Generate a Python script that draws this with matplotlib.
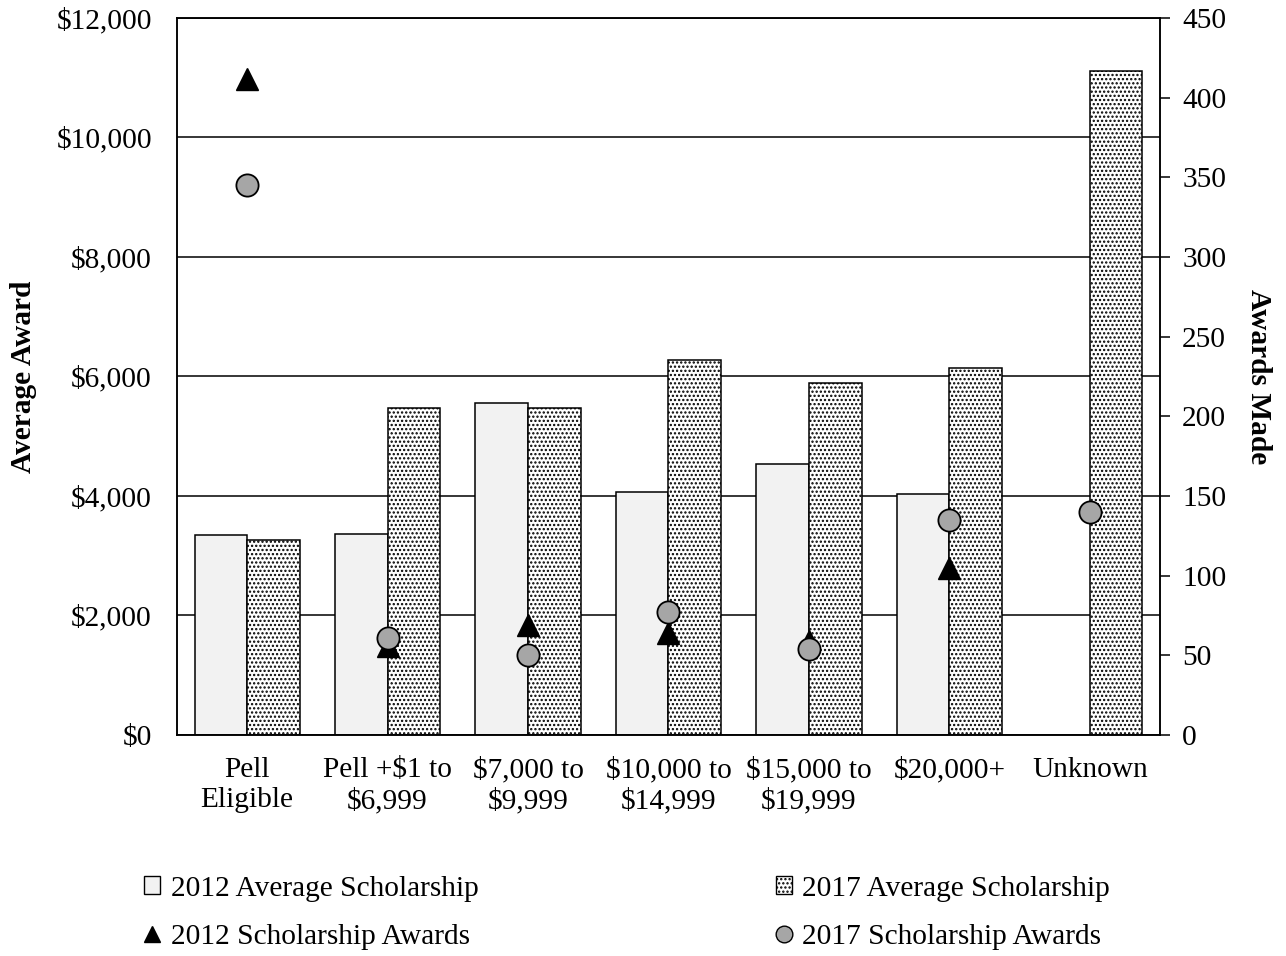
import numpy as np
import matplotlib

matplotlib.use("Agg")
import matplotlib.pyplot as plt
from matplotlib.lines import Line2D
from matplotlib.patches import Patch
from matplotlib.ticker import FuncFormatter

plt.rcParams["font.family"] = ["Liberation Serif", "DejaVu Serif"]
plt.rcParams["hatch.linewidth"] = 1.1

categories = [
    "Pell\nEligible",
    "Pell +$1 to\n$6,999",
    "$7,000 to\n$9,999",
    "$10,000 to\n$14,999",
    "$15,000 to\n$19,999",
    "$20,000+",
    "Unknown",
]
avg_2012 = [3350, 3370, 5550, 4070, 4540, 4030, np.nan]
avg_2017 = [3260, 5470, 5470, 6280, 5890, 6150, 11110]
awards_2012 = [412, 56, 69, 64, 59, 105, np.nan]
awards_2017 = [345, 61, 50, 77, 54, 135, 140]

FS = 21.2
x = np.arange(len(categories))
width = 0.375

fig = plt.figure(figsize=(12.86, 9.56), dpi=100)
ax = fig.add_axes([0.1376, 0.2312, 0.7644, 0.75])

ax.bar(x - width / 2, avg_2012, width, color="#f2f2f2", edgecolor="black", linewidth=1.1, zorder=2)
ax.bar(x + width / 2, avg_2017, width, color="white", edgecolor="black", hatch="....", linewidth=1.1, zorder=2)

ax.set_ylim(0, 12000)
ax.set_yticks(np.arange(0, 12001, 2000))
ax.yaxis.set_major_formatter(FuncFormatter(lambda v, _: f"${v:,.0f}"))
ax.set_xlim(-0.5, len(categories) - 0.5)
ax.set_xticks(x)
ax.set_xticklabels(categories, fontsize=FS, linespacing=1.2)
ax.tick_params(axis="x", length=0, pad=16)
ax.tick_params(axis="y", length=0, labelsize=FS, pad=18)
ax.grid(axis="y", color="black", linewidth=1.1, zorder=0)
ax.set_axisbelow(True)
ax.set_ylabel("Average Award", fontsize=FS, fontweight="bold", labelpad=14)
for side in ax.spines.values():
    side.set_linewidth(1.1)

ax2 = ax.twinx()
ax2.set_ylim(0, 450)
ax2.set_yticks(np.arange(0, 451, 50))
ax2.tick_params(axis="y", direction="out", length=7, width=1.1, labelsize=FS, pad=9)
ax2.plot(x, awards_2012, linestyle="none", marker="^", markersize=16,
         color="black", markeredgecolor="black", zorder=3)
ax2.plot(x, awards_2017, linestyle="none", marker="o", markersize=16,
         markerfacecolor="#a6a6a6", markeredgecolor="black", markeredgewidth=1.3, zorder=4)
ax2.set_ylabel("Awards Made", fontsize=FS, fontweight="bold", rotation=270, labelpad=33)
for side in ax2.spines.values():
    side.set_linewidth(1.1)

handles = [
    Patch(facecolor="#f2f2f2", edgecolor="black", linewidth=1.0),
    Line2D([], [], linestyle="none", marker="^", markersize=12, color="black"),
    Patch(facecolor="white", edgecolor="black", hatch="....", linewidth=1.0),
    Line2D([], [], linestyle="none", marker="o", markersize=12,
           markerfacecolor="#a6a6a6", markeredgecolor="black"),
]
labels = [
    "2012 Average Scholarship",
    "2012 Scholarship Awards",
    "2017 Average Scholarship",
    "2017 Scholarship Awards",
]
fig.legend(handles, labels, loc="upper left", bbox_to_anchor=(0.112, 0.084),
           ncol=2, frameon=False, fontsize=FS, handlelength=0.55, handleheight=0.55,
           handletextpad=0.35, columnspacing=10.1, labelspacing=0.75,
           borderpad=0, borderaxespad=0)

fig.savefig("out.png", dpi=100)
